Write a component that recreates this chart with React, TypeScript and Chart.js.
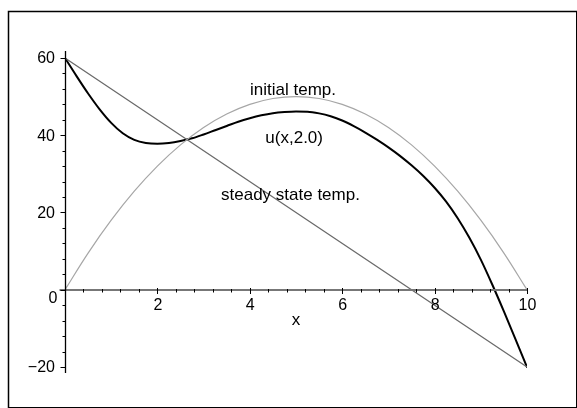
import React, { useEffect, useRef } from "react";
import { Chart, registerables } from "chart.js";

Chart.register(...registerables);

// ---- data ----
const initialX = [0, 0.5, 1, 1.5, 2, 2.5, 3, 3.5, 4, 4.5, 5, 5.5, 6, 6.5, 7, 7.5, 8, 8.5, 9, 9.5, 10];
const initialTemp = [0, 9.5, 18, 25.5, 32, 37.5, 42, 45.5, 48, 49.5, 50, 49.5, 48, 45.5, 42, 37.5, 32, 25.5, 18, 9.5, 0];

const steadyX = [0, 10];
const steadyTemp = [60, -20];

const uX = [
  0, 0.25, 0.5, 0.75, 1, 1.25, 1.5, 1.75, 2, 2.25, 2.5, 2.75, 3, 3.25, 3.5, 3.75, 4, 4.25, 4.5, 4.75, 5,
  5.25, 5.5, 5.75, 6, 6.25, 6.5, 6.75, 7, 7.25, 7.5, 7.75, 8, 8.25, 8.5, 8.75, 9, 9.25, 9.5, 9.75, 10,
];
const uTemp = [
  60, 55.3, 50.8, 46.7, 43.2, 40.5, 38.8, 38.0, 37.8, 38.0, 38.5, 39.2, 40.2, 41.3, 42.4, 43.5, 44.4, 45.15, 45.7, 46.0, 46.15,
  46.1, 45.65, 44.9, 43.8, 42.35, 40.7, 38.85, 36.85, 34.65, 32.2, 29.5, 26.4, 22.8, 18.5, 13.5, 7.8, 1.3, -5.6, -12.8, -20,
];

const xMajorTicks = [2, 4, 6, 8, 10];
const xTickLabels = ["2", "4", "6", "8", "10"];
const yMajorTicks = [60, 40, 20, 0, -20];
const yTickLabels = ["60", "40", "20", "0", "\u221220"];
const curveLabels = ["initial temp.", "u(x,2.0)", "steady state temp."];
const xAxisTitle = "x";

const toPoints = (xs: number[], ys: number[]) => xs.map((x, i) => ({ x, y: ys[i] }));

const FONT = "Liberation Sans, Arial, Helvetica, sans-serif";

const axesPlugin = {
  id: "mapleAxes",
  afterDatasetsDraw(chart: any) {
    const ctx = chart.ctx as CanvasRenderingContext2D;
    const xs = chart.scales.x;
    const ys = chart.scales.y;
    const area = chart.chartArea;
    const W = chart.width;
    const H = chart.height;
    ctx.save();

    // frame
    ctx.strokeStyle = "#000";
    ctx.lineWidth = 1.5;
    ctx.beginPath();
    ctx.moveTo(8.5, H);
    ctx.lineTo(8.5, 11.5);
    ctx.lineTo(W, 11.5);
    ctx.stroke();
    ctx.fillStyle = "#000";
    ctx.fillRect(W - 1, 11, 1, H - 11);
    ctx.fillRect(8, H - 1, W - 8, 1);

    const x0 = Math.round(xs.getPixelForValue(0)) + 0.5;
    const y0 = Math.round(ys.getPixelForValue(0));

    // x axis
    ctx.strokeStyle = "#777";
    ctx.lineWidth = 2;
    ctx.beginPath();
    ctx.moveTo(x0 - 6, y0);
    ctx.lineTo(xs.getPixelForValue(10), y0);
    ctx.stroke();

    // y axis
    ctx.strokeStyle = "#000";
    ctx.lineWidth = 1.3;
    ctx.beginPath();
    ctx.moveTo(x0, area.top);
    ctx.lineTo(x0, area.bottom);
    ctx.stroke();

    // x ticks
    ctx.lineWidth = 1;
    ctx.strokeStyle = "#000";
    for (let i = 1; i <= 25; i++) {
      const v = i * 0.4;
      const px = Math.round(xs.getPixelForValue(v)) + 0.5;
      const major = i % 5 === 0;
      ctx.beginPath();
      ctx.moveTo(px, y0 - (major ? 2 : 1));
      ctx.lineTo(px, y0 + (major ? 4 : 2.5));
      ctx.stroke();
    }
    // y ticks
    for (let i = -5; i <= 15; i++) {
      const v = i * 4;
      const py = Math.round(ys.getPixelForValue(v)) + 0.5;
      const major = i % 5 === 0;
      ctx.beginPath();
      ctx.moveTo(x0, py);
      ctx.lineTo(x0 - (major ? 5 : 3), py);
      ctx.stroke();
    }

    // tick labels
    ctx.fillStyle = "#000";
    ctx.font = `16px ${FONT}`;
    ctx.textAlign = "center";
    ctx.textBaseline = "alphabetic";
    xMajorTicks.forEach((v, i) => {
      ctx.fillText(xTickLabels[i], xs.getPixelForValue(v) + 0.5, y0 + 19.5);
    });
    ctx.textAlign = "right";
    ctx.textBaseline = "middle";
    yMajorTicks.forEach((v, i) => {
      const py = ys.getPixelForValue(v);
      if (v === 0) {
        ctx.fillText(yTickLabels[i], x0 - 8, py + 8.5);
      } else {
        ctx.fillText(yTickLabels[i], x0 - 10.5, py + 1);
      }
    });

    // curve labels
    ctx.font = `17px ${FONT}`;
    ctx.textAlign = "center";
    ctx.textBaseline = "alphabetic";
    const lblPos = [
      [4.935, 50.3],
      [4.96, 38.1],
      [4.88, 23.3],
    ];
    curveLabels.forEach((t, i) => {
      ctx.fillText(t, xs.getPixelForValue(lblPos[i][0]), ys.getPixelForValue(lblPos[i][1]));
    });
    ctx.fillText(xAxisTitle, xs.getPixelForValue(5.0), ys.getPixelForValue(-9.0));

    ctx.restore();
  },
};

export default function App() {
  const ref = useRef<HTMLCanvasElement | null>(null);

  useEffect(() => {
    if (!ref.current) return;
    const chart = new Chart(ref.current, {
      type: "line",
      data: {
        datasets: [
          {
            label: "initial temp.",
            data: toPoints(initialX, initialTemp),
            borderColor: "#a6a6a6",
            borderWidth: 1.2,
            pointRadius: 0,
            tension: 0.4,
            fill: false,
          },
          {
            label: "steady state temp.",
            data: toPoints(steadyX, steadyTemp),
            borderColor: "#6a6a6a",
            borderWidth: 1.2,
            pointRadius: 0,
            fill: false,
          },
          {
            label: "u(x,2.0)",
            data: toPoints(uX, uTemp),
            borderColor: "#000000",
            borderWidth: 2,
            pointRadius: 0,
            cubicInterpolationMode: "monotone",
            fill: false,
          },
        ],
      },
      options: {
        responsive: false,
        maintainAspectRatio: false,
        animation: false,
        devicePixelRatio: 1,
        layout: { padding: { left: 65, right: 50, top: 51, bottom: 35 } },
        plugins: { legend: { display: false }, tooltip: { enabled: false } },
        elements: { line: { borderCapStyle: "round", borderJoinStyle: "round" } },
        scales: {
          x: { type: "linear", min: 0, max: 10, display: false },
          y: { type: "linear", min: -21.55, max: 61.8, display: false },
        },
      },
      plugins: [axesPlugin],
    } as any);
    return () => chart.destroy();
  }, []);

  return (
    <div style={{ position: "fixed", left: 0, top: 0, width: 577, height: 408, background: "#fff" }}>
      <canvas ref={ref} width={577} height={408} style={{ display: "block", width: 577, height: 408 }} />
    </div>
  );
}
